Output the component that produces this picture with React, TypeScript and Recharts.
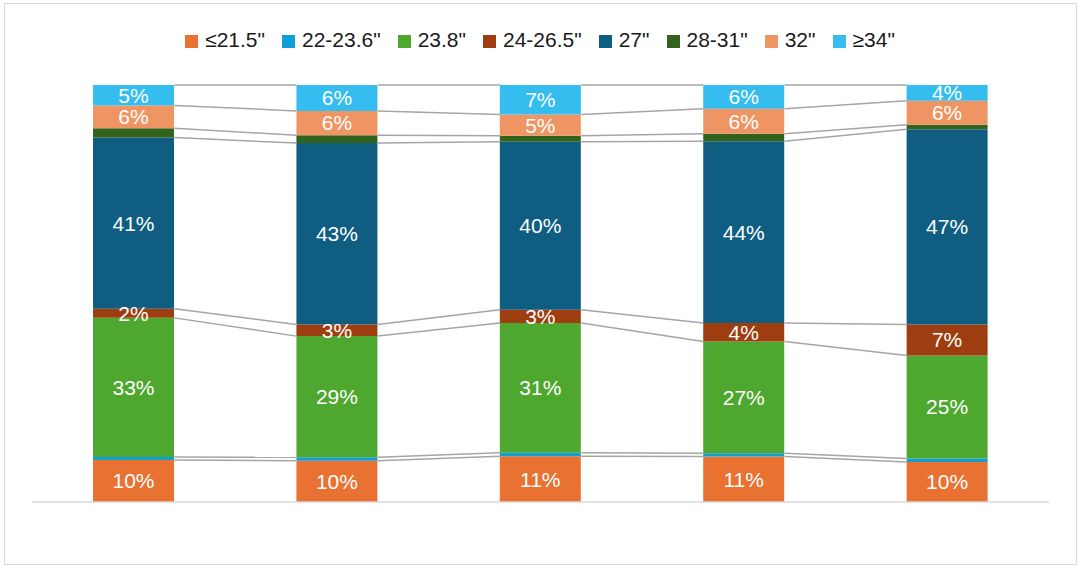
import { Bar, BarChart, LabelList, ReferenceLine, XAxis, YAxis } from "recharts";

// five columns, no category labels shown in the source
const periods = ["P1", "P2", "P3", "P4", "P5"];

const seriesNames = ['≤21.5"', '22-23.6"', '23.8"', '24-26.5"', '27"', '28-31"', '32"', '≥34"'];
const seriesColors = ["#E97132", "#0F9ED5", "#4EA72E", "#9E3D0F", "#0F5E82", "#31631D", "#EF9563", "#35BDF0"];

// share of each size, percent, bottom to top
const le215 = [10.1, 9.9, 11.0, 10.9, 9.6];
const s22to236 = [0.7, 0.8, 0.8, 0.8, 0.8];
const s238 = [33.4, 29.0, 31.1, 26.8, 24.7];
const s24to265 = [2.2, 2.8, 3.2, 4.4, 7.4];
const s27 = [41.1, 43.4, 40.3, 43.6, 46.8];
const s28to31 = [2.2, 1.9, 1.4, 1.8, 1.1];
const s32 = [5.5, 5.8, 5.1, 6.0, 5.7];
const ge34 = [4.9, 6.2, 7.1, 5.7, 3.8];

const seriesValues = [le215, s22to236, s238, s24to265, s27, s28to31, s32, ge34];
// series that carry a data label
const labelled = [true, false, true, true, true, false, true, true];

const GAP = 0.3; // barCategoryGap on each side of a bar
const HALF = 0.5 - GAP; // half bar width, in category units

const data = periods.map((p, i) => {
  const row: Record<string, number | string> = { name: p, idx: i };
  seriesValues.forEach((vals, s) => {
    row["s" + s] = vals[i];
  });
  return row;
});

// cumulative top of each series, as a share of the column total
const tops = seriesValues.map((_, s) =>
  periods.map((_, i) => {
    const total = seriesValues.reduce((a, v) => a + v[i], 0);
    let cum = 0;
    for (let k = 0; k <= s; k++) cum += seriesValues[k][i];
    return cum / total;
  })
);

export default function App() {
  const font = '"Liberation Sans", Arial, sans-serif';
  return (
    <div
      style={{
        position: "absolute",
        left: 0,
        top: 0,
        width: 1080,
        height: 566,
        background: "#fff",
        fontFamily: font,
      }}
    >
      <div
        style={{
          position: "absolute",
          left: 4,
          top: 3,
          width: 1073,
          height: 562,
          border: "1px solid #d9d9d9",
          boxSizing: "border-box",
        }}
      />
      <div
        style={{
          position: "absolute",
          top: 28,
          left: 0,
          width: 1080,
          display: "flex",
          justifyContent: "center",
          gap: 17,
        }}
      >
        {seriesNames.map((n, s) => (
          <span key={n} style={{ display: "flex", alignItems: "center", fontSize: 21, lineHeight: "24px", color: "#1a1a1a" }}>
            <span style={{ width: 13, height: 13, background: seriesColors[s], marginRight: 7, marginTop: 2 }} />
            {n}
          </span>
        ))}
      </div>
      <BarChart
        width={1080}
        height={566}
        data={data}
        stackOffset="expand"
        barCategoryGap={`${GAP * 100}%`}
        margin={{ top: 85, right: 31, bottom: 34, left: 32 }}
      >
        <XAxis dataKey="name" tick={false} tickLine={false} axisLine={{ stroke: "#d9d9d9", strokeWidth: 1.5 }} height={30} />
        <XAxis
          xAxisId="num"
          type="number"
          dataKey="idx"
          domain={[-0.5, periods.length - 0.5]}
          allowDataOverflow
          hide
        />
        <YAxis hide domain={[0, 1]} />
        {seriesValues.map((_, s) => (
          <Bar key={s} dataKey={"s" + s} stackId="a" fill={seriesColors[s]} isAnimationActive={false}>
            {labelled[s] && (
              <LabelList
                dataKey={"s" + s}
                position="center"
                fill="#fff"
                fontSize={21}
                formatter={(v: number) => `${Math.round(v)}%`}
              />
            )}
          </Bar>
        ))}
        {tops.map((t, s) =>
          periods.slice(0, -1).map((_, i) => (
            <ReferenceLine
              key={`sl-${s}-${i}`}
              xAxisId="num"
              segment={[
                { x: i + HALF, y: t[i] },
                { x: i + 1 - HALF, y: t[i + 1] },
              ]}
              stroke="#a5a5a5"
              strokeWidth={1.5}
              ifOverflow="visible"
            />
          ))
        )}
      </BarChart>
    </div>
  );
}
